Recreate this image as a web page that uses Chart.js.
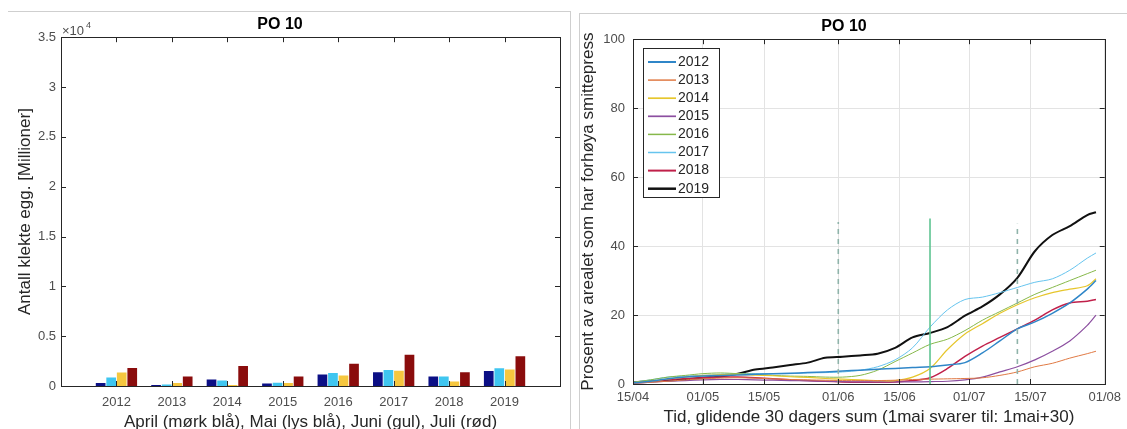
<!DOCTYPE html>
<html>
<head>
<meta charset="utf-8">
<script src="https://cdn.jsdelivr.net/npm/chart.js@4"></script>
<style>
  body { margin: 0; background: #fff; font-family: "Liberation Sans", Arial, sans-serif; }
  #wrap { position: relative; width: 1127px; height: 429px; overflow: hidden; }
  canvas { position: absolute; }
  #bars { left: 0; top: 0; }
  #lines { left: 580px; top: 14px; }
  .frameL { position: absolute; left: 8px; top: 11px; width: 562px; height: 420px; border-top: 1px solid #cfcfcf; border-right: 1px solid #cfcfcf; }
  .frameR { position: absolute; left: 579px; top: 13px; width: 550px; height: 420px; border-top: 1px solid #cfcfcf; border-left: 1px solid #cfcfcf; }
</style>
</head>
<body>
<div id="wrap">
  <div class="frameL"></div>
  <div class="frameR"></div>
  <canvas id="bars" width="575" height="429"></canvas>
  <canvas id="lines" width="547" height="415"></canvas>
</div>
<script>
"use strict";

var FONT = '"Liberation Sans", Arial, sans-serif';

// Left chart: hatched eggs per month (millions)
var years = ["2012", "2013", "2014", "2015", "2016", "2017", "2018", "2019"];
var april = [300, 100, 650, 250, 1150, 1380, 950, 1500];
var mai = [850, 150, 550, 320, 1300, 1600, 950, 1780];
var juni = [1350, 300, 100, 300, 1050, 1520, 450, 1650];
var juli = [1800, 950, 2000, 950, 2230, 3130, 1380, 2980];
var barTicks = [0, 5000, 10000, 15000, 20000, 25000, 30000, 35000];

// Right chart: % of area with high infection pressure (days since 15/04)
var days = [0, 4, 8, 12, 16, 20, 24, 28, 32, 36, 40, 44, 48, 52, 56, 60, 64, 68, 72, 76, 80, 84, 88, 92, 96, 100, 104, 106];
var p2012 = [0.3, 0.8, 1.5, 2.0, 2.3, 2.5, 2.6, 2.8, 3.0, 3.1, 3.3, 3.5, 3.8, 4.0, 4.3, 4.5, 4.8, 5.0, 5.5, 6.2, 9, 12.5, 16, 18, 20.5, 23.5, 27.5, 30];
var p2013 = [0.2, 0.5, 0.8, 1.2, 1.5, 1.7, 1.8, 1.7, 1.5, 1.3, 1.2, 1.1, 1.0, 1.0, 1.0, 1.1, 1.3, 1.4, 1.5, 1.6, 1.8, 2.5, 3.5, 5.0, 6.0, 7.5, 8.8, 9.5];
var p2014 = [0.3, 0.8, 1.5, 2.0, 2.5, 2.7, 2.8, 2.6, 2.4, 2.1, 1.9, 1.6, 1.4, 1.2, 1.0, 1.0, 2.0, 4.5, 10, 14.5, 17.5, 20.5, 23, 25, 26.5, 27.5, 28.5, 30.5];
var p2015 = [0.2, 0.5, 0.8, 1.0, 1.2, 1.3, 1.3, 1.2, 1.1, 1.0, 0.9, 0.8, 0.7, 0.6, 0.6, 0.6, 0.6, 0.7, 0.8, 1.2, 2.0, 3.5, 5.0, 7.0, 9.5, 12.5, 17, 20];
var p2016 = [0.5, 1.2, 2.0, 2.5, 3.0, 3.2, 3.0, 2.8, 2.5, 2.3, 2.2, 2.0, 2.0, 2.5, 4.0, 6.5, 9.0, 11.5, 13, 15.5, 18.5, 21, 23.5, 26, 28, 30, 32, 33];
var p2017 = [0.5, 1.2, 2.0, 2.3, 2.5, 2.8, 3.0, 3.0, 3.0, 3.0, 3.2, 3.3, 3.5, 4.0, 5.0, 7.0, 10.5, 16.5, 21.5, 24.5, 25.2, 26.5, 28, 29.5, 30.5, 33, 36.5, 38];
var p2018 = [0.3, 0.8, 1.2, 1.6, 1.8, 2.0, 2.0, 1.8, 1.5, 1.2, 1.0, 0.8, 0.6, 0.5, 0.5, 0.6, 1.0, 1.8, 4.5, 8, 11, 13.5, 16, 18.5, 21.5, 23.5, 24, 24.5];
var p2019 = [0.5, 0.8, 1.0, 1.3, 1.8, 2.2, 3.0, 4.2, 4.8, 5.5, 6.2, 7.6, 7.9, 8.3, 8.8, 10.5, 13.5, 14.8, 16.5, 19.8, 22.5, 26, 30.8, 38.5, 43.2, 45.8, 49, 49.8];
var dateTicks = [0, 16, 30, 47, 61, 77, 91, 108];
var dateLabels = ["15/04", "01/05", "15/05", "01/06", "15/06", "01/07", "15/07", "01/08"];
var markerDays = [47, 68, 88];
var markerTops = [47, 48, 46.5];


// MATLAB style box with inward ticks
var axesBox = {
    id: 'axesBox',
    afterDraw: function (chart) {
        var ctx = chart.ctx, a = chart.chartArea;
        var xs = chart.scales.x, ys = chart.scales.y;
        ctx.save();
        ctx.strokeStyle = '#262626';
        ctx.lineWidth = 1;
        ctx.strokeRect(Math.round(a.left) + 0.5, Math.round(a.top) + 0.5, Math.round(a.right - a.left), Math.round(a.bottom - a.top));
        ctx.beginPath();
        xs.ticks.forEach(function (t) {
            var px = Math.round(xs.getPixelForValue(t.value)) + 0.5;
            ctx.moveTo(px, a.bottom); ctx.lineTo(px, a.bottom - 5);
            ctx.moveTo(px, a.top); ctx.lineTo(px, a.top + 5);
        });
        ys.ticks.forEach(function (t) {
            var py = Math.round(ys.getPixelForValue(t.value)) + 0.5;
            ctx.moveTo(a.left, py); ctx.lineTo(a.left + 5, py);
            ctx.moveTo(a.right, py); ctx.lineTo(a.right - 5, py);
        });
        ctx.stroke();
        ctx.restore();
    }
};

// x10^4 exponent above the left y axis
var exponent = {
    id: 'exponent',
    afterDraw: function (chart) {
        var ctx = chart.ctx, a = chart.chartArea;
        ctx.save();
        ctx.fillStyle = '#4d4d4d';
        ctx.textBaseline = 'middle';
        ctx.font = '13px ' + FONT;
        ctx.fillText('\u00d710', a.left + 1, a.top - 6);
        var w = ctx.measureText('\u00d710').width;
        ctx.font = '9px ' + FONT;
        ctx.fillText('4', a.left + w + 3, a.top - 12);
        ctx.restore();
    }
};

// boxed legend inside the plot, upper left
var boxLegend = {
    id: 'boxLegend',
    afterDatasetsDraw: function (chart) {
        var ctx = chart.ctx, a = chart.chartArea;
        var items = chart.data.datasets.filter(function (d) { return d.showInLegend; });
        var x0 = Math.round(a.left) + 10, y0 = Math.round(a.top) + 9;
        var rowH = 18.1, w = 76, h = 149;
        ctx.save();
        ctx.fillStyle = '#fff';
        ctx.fillRect(x0, y0, w, h);
        ctx.strokeStyle = '#262626';
        ctx.lineWidth = 1;
        ctx.strokeRect(x0 + 0.5, y0 + 0.5, w, h);
        ctx.font = '14px ' + FONT;
        ctx.textBaseline = 'middle';
        items.forEach(function (d, i) {
            var y = y0 + 14 + i * rowH;
            ctx.strokeStyle = d.borderColor;
            ctx.lineWidth = d.borderWidth + 0.5;
            ctx.beginPath();
            ctx.moveTo(x0 + 5, y); ctx.lineTo(x0 + 33, y);
            ctx.stroke();
            ctx.fillStyle = '#262626';
            ctx.fillText(d.label, x0 + 35, y);
        });
        ctx.restore();
    }
};


// Bar chart
function barSet(label, values, color) {
    return {
        label: label,
        data: values.map(function (v, i) { return { x: i + 1, y: v }; }),
        backgroundColor: color,
        categoryPercentage: 0.76,
        barPercentage: 0.92
    };
}

new Chart(document.getElementById('bars').getContext('2d'), {
    type: 'bar',
    data: {
        datasets: [
            barSet('April', april, '#0b0f85'),
            barSet('Mai', mai, '#3fc6f0'),
            barSet('Juni', juni, '#f6c73f'),
            barSet('Juli', juli, '#8a0c0c')
        ]
    },
    options: {
        responsive: false,
        animation: false,
        layout: { padding: { left: 0, right: 15, top: 0, bottom: 0 } },
        plugins: {
            legend: { display: false },
            tooltip: { enabled: false },
            title: {
                display: true, text: 'PO 10', color: '#000',
                font: { family: FONT, size: 16, weight: 'bold' },
                padding: { top: 15, bottom: 3 }
            }
        },
        scales: {
            x: {
                type: 'linear', min: 0, max: 9, offset: false,
                afterBuildTicks: function (s) { s.ticks = years.map(function (y, i) { return { value: i + 1 }; }); },
                afterFit: function (s) { s.height = 43; },
                grid: { display: false, drawTicks: false },
                border: { display: false },
                ticks: {
                    padding: 9, color: '#4d4d4d', font: { family: FONT, size: 13 },
                    callback: function (v) { return years[v - 1]; }
                },
                title: {
                    display: true, text: 'April (m\u00f8rk bl\u00e5), Mai (lys bl\u00e5), Juni (gul), Juli (r\u00f8d)',
                    color: '#262626', font: { family: FONT, size: 17, lineHeight: 1 },
                    padding: { top: 0, bottom: -2 }
                }
            },
            y: {
                min: 0, max: 35000,
                afterBuildTicks: function (s) { s.ticks = barTicks.map(function (v) { return { value: v }; }); },
                afterFit: function (s) { s.width = 61; },
                grid: { display: false, drawTicks: false },
                border: { display: false },
                ticks: {
                    padding: 5, color: '#4d4d4d', font: { family: FONT, size: 13 },
                    callback: function (v) { return String(v / 10000); }
                },
                title: {
                    display: true, text: 'Antall klekte egg. [Millioner]',
                    color: '#262626', font: { family: FONT, size: 17, lineHeight: 1 },
                    padding: { top: 17, bottom: 0 }
                }
            }
        }
    },
    plugins: [axesBox, exponent]
});


// Line chart
function lineSet(label, values, color, width) {
    return {
        label: label,
        showInLegend: true,
        data: values.map(function (v, i) { return { x: days[i], y: v }; }),
        borderColor: color,
        borderWidth: width,
        pointRadius: 0,
        tension: 0.3,
        fill: false
    };
}

function markerSet(i, color, dash) {
    return {
        label: 'marker' + i,
        data: [{ x: markerDays[i], y: 0 }, { x: markerDays[i], y: markerTops[i] }],
        borderColor: color,
        borderWidth: 1.6,
        borderDash: dash,
        pointRadius: 0,
        fill: false
    };
}

new Chart(document.getElementById('lines').getContext('2d'), {
    type: 'line',
    data: {
        datasets: [
            markerSet(0, '#8fb3aa', [5, 5]),
            markerSet(1, '#5fc492', []),
            markerSet(2, '#8fb3aa', [5, 5]),
            lineSet('2012', p2012, '#2f86c8', 1.5),
            lineSet('2013', p2013, '#e07a45', 1),
            lineSet('2014', p2014, '#e6c62c', 1.2),
            lineSet('2015', p2015, '#8c4fa0', 1.2),
            lineSet('2016', p2016, '#86b84a', 1),
            lineSet('2017', p2017, '#66c4ee', 1),
            lineSet('2018', p2018, '#c0204a', 1.5),
            lineSet('2019', p2019, '#111111', 2)
        ]
    },
    options: {
        responsive: false,
        animation: false,
        layout: { padding: { left: 0, right: 19, top: 0, bottom: 0 } },
        plugins: {
            legend: { display: false },
            tooltip: { enabled: false },
            title: {
                display: true, text: 'PO 10', color: '#000',
                font: { family: FONT, size: 16, weight: 'bold' },
                padding: { top: 3, bottom: 3 }
            }
        },
        scales: {
            x: {
                type: 'linear', min: 0, max: 108,
                afterBuildTicks: function (s) { s.ticks = dateTicks.map(function (v) { return { value: v }; }); },
                afterFit: function (s) { s.height = 45; },
                grid: { color: '#e3e3e3', drawTicks: false },
                border: { display: false },
                ticks: {
                    padding: 6, color: '#4d4d4d', font: { family: FONT, size: 13 },
                    callback: function (v) { return dateLabels[dateTicks.indexOf(v)]; }
                },
                title: {
                    display: true, text: 'Tid, glidende 30 dagers sum (1mai svarer til: 1mai+30)',
                    color: '#262626', font: { family: FONT, size: 17, lineHeight: 1 },
                    padding: { top: 0, bottom: 3.5 }
                }
            },
            y: {
                min: 0, max: 100,
                ticks: { stepSize: 20, padding: 8, color: '#4d4d4d', font: { family: FONT, size: 13 } },
                afterFit: function (s) { s.width = 53; },
                grid: { color: '#e3e3e3', drawTicks: false },
                border: { display: false },
                title: {
                    display: true, text: 'Prosent av arealet som har forh\u00f8ya smittepress',
                    color: '#262626', font: { family: FONT, size: 17, lineHeight: 1 },
                    padding: { top: 0, bottom: 0 }
                }
            }
        }
    },
    plugins: [axesBox, boxLegend]
});
</script>
</body>
</html>
